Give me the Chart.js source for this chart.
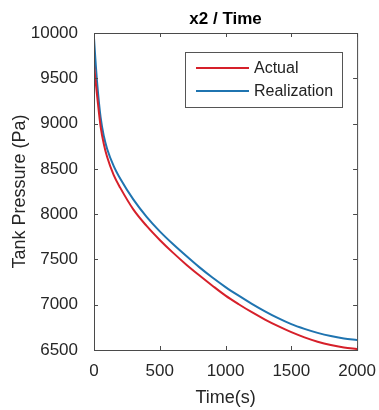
<!DOCTYPE html>
<html>
<head>
<meta charset="utf-8">
<script src="https://cdn.jsdelivr.net/npm/chart.js@4"></script>
<style>
  html, body { margin: 0; padding: 0; background: #fff; }
  #wrap { width: 379px; height: 410px; }
</style>
</head>
<body>
<div id="wrap"><canvas id="c" width="379" height="410"></canvas></div>
<script>
// time axis (s)
const times = [0, 10, 25, 50, 75, 100, 150, 200, 300, 400, 500, 600, 700, 800, 900, 1000, 1100, 1200, 1300, 1400, 1500, 1600, 1700, 1800, 1900, 2000];
// tank pressure (Pa)
const actual = [9650, 9500, 9290, 8970, 8770, 8630, 8430, 8290, 8050, 7870, 7715, 7575, 7445, 7325, 7210, 7100, 7005, 6917, 6836, 6763, 6697, 6640, 6592, 6555, 6528, 6510];
const realization = [9945, 9720, 9430, 9070, 8860, 8720, 8530, 8390, 8160, 7970, 7810, 7670, 7540, 7415, 7300, 7195, 7100, 7010, 6927, 6851, 6785, 6733, 6689, 6654, 6628, 6610];
const seriesNames = ['Actual', 'Realization'];
const xTicks = [0, 500, 1000, 1500, 2000];
const yTicks = [6500, 7000, 7500, 8000, 8500, 9000, 9500, 10000];

const FONT = 'Liberation Sans, Arial, sans-serif';
const AXIS = '#4a4a4a';

// matlab style box with inward ticks + title + legend
const boxPlugin = {
  id: 'box',
  afterDraw(chart) {
    const { ctx, chartArea: a, scales } = chart;
    ctx.save();
    ctx.strokeStyle = AXIS;
    ctx.lineWidth = 1;
    ctx.strokeRect(a.left + 0.5, a.top + 0.5, a.right - a.left, a.bottom - a.top);
    ctx.beginPath();
    xTicks.forEach(v => {
      const px = Math.round(scales.x.getPixelForValue(v)) + 0.5;
      ctx.moveTo(px, a.bottom); ctx.lineTo(px, a.bottom - 4);
      ctx.moveTo(px, a.top); ctx.lineTo(px, a.top + 4);
    });
    yTicks.forEach(v => {
      const py = Math.round(scales.y.getPixelForValue(v)) + 0.5;
      ctx.moveTo(a.left, py); ctx.lineTo(a.left + 4, py);
      ctx.moveTo(a.right, py); ctx.lineTo(a.right - 4, py);
    });
    ctx.stroke();

    // title
    ctx.fillStyle = '#000';
    ctx.font = 'bold 17px ' + FONT;
    ctx.textAlign = 'center';
    ctx.textBaseline = 'middle';
    ctx.fillText('x2 / Time', (a.left + a.right) / 2, 19);

    // legend
    const lx = 185, ly = 52, lw = 157, lh = 55;
    ctx.fillStyle = '#fff';
    ctx.fillRect(lx, ly, lw, lh);
    ctx.strokeStyle = '#555';
    ctx.strokeRect(lx + 0.5, ly + 0.5, lw, lh);
    ctx.font = '16px ' + FONT;
    ctx.textAlign = 'left';
    chart.data.datasets.forEach((ds, i) => {
      const y = ly + 16 + i * 23;
      ctx.strokeStyle = ds.borderColor;
      ctx.lineWidth = 2;
      ctx.beginPath();
      ctx.moveTo(lx + 11, y); ctx.lineTo(lx + 64, y);
      ctx.stroke();
      ctx.fillStyle = '#222';
      ctx.fillText(ds.label, lx + 69, y + 1);
    });
    ctx.restore();
  }
};

new Chart(document.getElementById('c'), {
  type: 'line',
  data: {
    datasets: [
      {
        label: seriesNames[0],
        data: times.map((t, i) => ({ x: t, y: actual[i] })),
        borderColor: '#d6202a',
        borderWidth: 2,
        pointRadius: 0,
        cubicInterpolationMode: 'monotone'
      },
      {
        label: seriesNames[1],
        data: times.map((t, i) => ({ x: t, y: realization[i] })),
        borderColor: '#1f74b0',
        borderWidth: 2,
        pointRadius: 0,
        cubicInterpolationMode: 'monotone'
      }
    ]
  },
  options: {
    responsive: false,
    animation: false,
    layout: { padding: { top: 33, right: 19, left: 0, bottom: 0 } },
    plugins: {
      legend: { display: false },
      tooltip: { enabled: false },
      title: { display: false }
    },
    scales: {
      x: {
        type: 'linear',
        min: 0,
        max: 2000,
        afterFit: s => { s.height = 60; },
        afterBuildTicks: s => { s.ticks = xTicks.map(v => ({ value: v })); },
        grid: { display: false },
        border: { display: false },
        ticks: { color: '#262626', font: { family: FONT, size: 17 }, padding: 3, maxRotation: 0, callback: v => String(v) },
        title: { display: true, text: 'Time(s)', color: '#262626', font: { family: FONT, size: 18 }, padding: { top: 0, bottom: 1 } }
      },
      y: {
        min: 6500,
        max: 10000,
        afterFit: s => { s.width = 94; },
        afterBuildTicks: s => { s.ticks = yTicks.map(v => ({ value: v })); },
        grid: { display: false },
        border: { display: false },
        ticks: { color: '#262626', font: { family: FONT, size: 17 }, padding: 8, callback: v => String(v) },
        title: { display: true, text: 'Tank Pressure (Pa)', color: '#262626', font: { family: FONT, size: 18 }, padding: { top: 9, bottom: 0 } }
      }
    }
  },
  plugins: [boxPlugin]
});
</script>
</body>
</html>
